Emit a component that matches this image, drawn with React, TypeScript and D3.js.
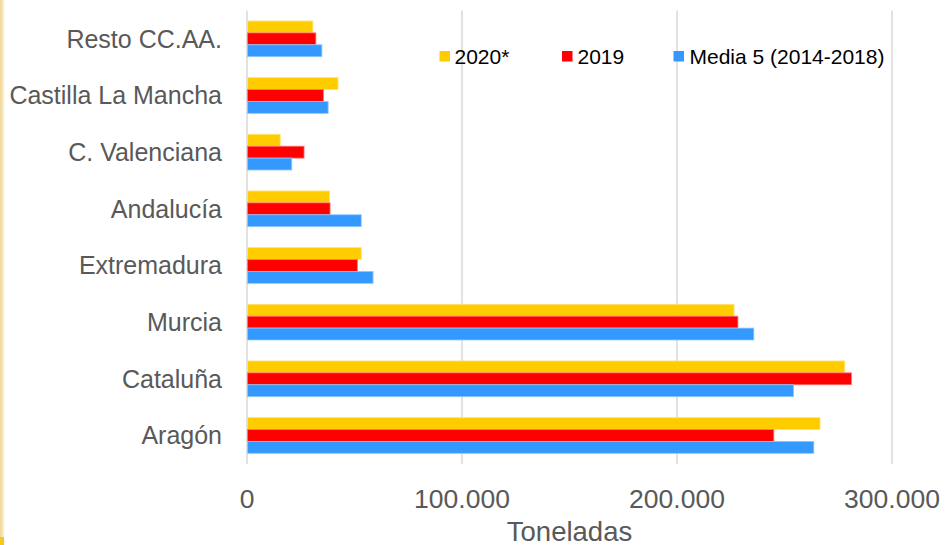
import React from 'react';
import * as d3 from 'd3';

// Toneladas por comunidad autónoma
const categories = ['Resto CC.AA.', 'Castilla La Mancha', 'C. Valenciana', 'Andalucía', 'Extremadura', 'Murcia', 'Cataluña', 'Aragón'];
const seriesNames = ['2020*', '2019', 'Media 5 (2014-2018)'];
const seriesColors = ['#ffcc00', '#ff0000', '#3399ff'];
const values2020 = [30400, 42100, 15200, 38100, 52900, 226300, 277800, 266300];
const values2019 = [31800, 35300, 26300, 38400, 51100, 228100, 280900, 244800];
const valuesMedia = [34600, 37500, 20600, 52900, 58400, 235500, 254000, 263400];
const xTicks = [0, 100000, 200000, 300000];

const W = 949;
const H = 545;
const margin = { top: 10.5, right: 57, bottom: 81, left: 247 };

const locale = d3.formatLocale({ decimal: ',', thousands: '.', grouping: [3], currency: ['', ''] });
const fmt = locale.format(',');

export default function App() {
  const x = d3.scaleLinear().domain([0, 300000]).range([margin.left, W - margin.right]);
  const y = d3.scaleBand<string>()
    .domain(categories)
    .range([margin.top, H - margin.bottom - 0.2])
    .paddingInner(0.37)
    .paddingOuter(0.185);
  const ySub = d3.scaleBand<string>().domain(seriesNames).range([0, y.bandwidth()]);

  const series = [values2020, values2019, valuesMedia];
  const font = '"Liberation Sans", Arial, sans-serif';
  const plotTop = margin.top;
  const plotBottom = H - margin.bottom;

  return (
    <>
      <style>{'body{margin:0}'}</style>
      <svg width={W} height={H} style={{ display: 'block', background: '#fff' }}>
        <defs>
          <linearGradient id="edge" x1="0" x2="1" y1="0" y2="0">
            <stop offset="0" stopColor="#ecd491" />
            <stop offset="0.6" stopColor="#f6e9c4" />
            <stop offset="1" stopColor="#ffffff" />
          </linearGradient>
        </defs>
        <rect x={0} y={0} width={5} height={H} fill="url(#edge)" />
        <rect x={0} y={537} width={4} height={8} fill="#f6c81c" />

        {/* grid */}
        {xTicks.map(t => (
          <line key={t} x1={x(t)} x2={x(t)} y1={plotTop} y2={plotBottom} stroke="#d9d9d9" strokeWidth={1.5} />
        ))}

        {/* bars */}
        {categories.map((c, i) => (
          <g key={c} transform={`translate(0,${y(c)})`}>
            {series.map((s, j) => (
              <rect
                key={j}
                x={x(0) + 0.5}
                y={ySub(seriesNames[j])}
                width={x(s[i]) - x(0)}
                height={ySub.bandwidth()}
                fill={seriesColors[j]}
                stroke={d3.interpolateRgb(seriesColors[j], '#ffffff')(0.45)}
                strokeWidth={0.8}
              />
            ))}
          </g>
        ))}

        {/* category labels */}
        {categories.map(c => (
          <text
            key={c}
            x={222}
            y={(y(c) || 0) + y.bandwidth() / 2}
            dy="0.35em"
            textAnchor="end"
            fontFamily={font}
            fontSize={25}
            fill="#595959"
          >
            {c}
          </text>
        ))}

        {/* x tick labels */}
        {xTicks.map(t => (
          <text key={t} x={x(t)} y={507.5} textAnchor="middle" fontFamily={font} fontSize={26.5} fill="#595959">
            {fmt(t)}
          </text>
        ))}
        <text x={(x(0) + x(300000)) / 2} y={540.5} textAnchor="middle" fontFamily={font} fontSize={27.5} fill="#595959">
          Toneladas
        </text>

        {/* legend */}
        {[
          { sx: 439.5, tx: 454.5 },
          { sx: 562, tx: 577.5 },
          { sx: 673.5, tx: 689.5 },
        ].map((p, j) => (
          <g key={j}>
            <rect x={p.sx} y={51} width={10.5} height={10.5} fill={seriesColors[j]} />
            <text x={p.tx} y={63.5} fontFamily={font} fontSize={21} fill="#000">
              {seriesNames[j]}
            </text>
          </g>
        ))}
      </svg>
    </>
  );
}
